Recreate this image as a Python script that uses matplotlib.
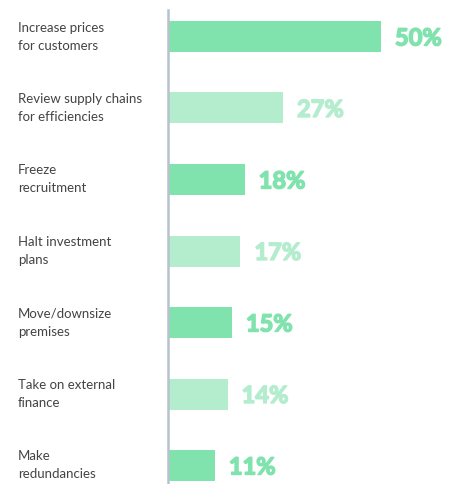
import matplotlib
matplotlib.use("Agg")
import matplotlib.pyplot as plt
import matplotlib.patheffects as pe

categories = ["Increase prices\nfor customers", "Review supply chains\nfor efficiencies",
              "Freeze\nrecruitment", "Halt investment\nplans", "Move/downsize\npremises",
              "Take on external\nfinance", "Make\nredundancies"]
values = [50, 27, 18, 17, 15, 14, 11]
value_labels = ["50%", "27%", "18%", "17%", "15%", "14%", "11%"]

dark = "#80E3AD"
light = "#B3EDCE"
colors = [dark if i % 2 == 0 else light for i in range(len(values))]

W, H = 463, 484
fig = plt.figure(figsize=(W / 100, H / 100), dpi=100)
ax_left = 168 / W
ax = fig.add_axes([ax_left, 0, 1 - ax_left, 1 - 10 / H])

px_per_unit = (381 - 168) / 50
ax.set_xlim(0, (W - 168) / px_per_unit)
spacing = 71.5
top = (10 - 36.5) / spacing
bottom = (484 - 36.5) / spacing
ax.set_ylim(bottom, top)

ypos = list(range(len(values)))
ax.barh(ypos, values, height=31 / spacing, color=colors, left=0)

for i, (v, lab) in enumerate(zip(values, value_labels)):
    ax.text(v + 14 / px_per_unit, i + 0.02, lab, va="center", ha="left",
            fontsize=17, fontweight="bold", family="Lato", color=colors[i],
            path_effects=[pe.withStroke(linewidth=1.1, foreground=colors[i])])

for i, c in enumerate(categories):
    ax.text(18 / W, 1 - (36.5 + spacing * i) / H, c, transform=fig.transFigure,
            va="center", ha="left", fontsize=9.5, family="Lato", fontweight="normal",
            color="#444444", linespacing=1.6)

for s in ["top", "right", "bottom"]:
    ax.spines[s].set_visible(False)
ax.spines["left"].set_color("#B8C2CC")
ax.spines["left"].set_linewidth(1.8)
ax.set_xticks([])
ax.set_yticks([])
ax.patch.set_alpha(0)

fig.savefig("out.png", dpi=100)
